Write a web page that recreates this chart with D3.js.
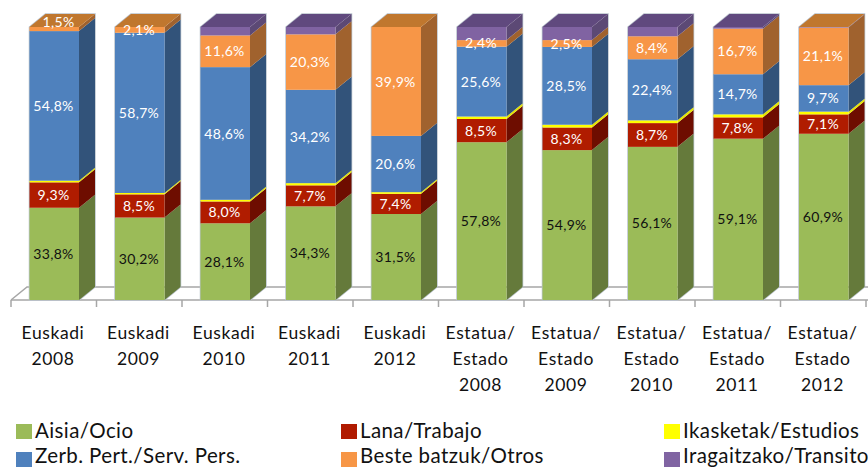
<!DOCTYPE html>
<html><head><meta charset="utf-8">
<script src="https://cdn.jsdelivr.net/npm/d3@7"></script>
<style>html,body{margin:0;background:#fff}svg{display:block}text{font-family:Lato,"Open Sans",sans-serif}</style>
</head><body><svg id="c" width="868" height="468"></svg>
<script>
const categories=[["Euskadi","2008"],["Euskadi","2009"],["Euskadi","2010"],["Euskadi","2011"],["Euskadi","2012"],["Estatua/","Estado","2008"],["Estatua/","Estado","2009"],["Estatua/","Estado","2010"],["Estatua/","Estado","2011"],["Estatua/","Estado","2012"]];
const seriesNames=["Aisia/Ocio","Lana/Trabajo","Ikasketak/Estudios","Zerb. Pert./Serv. Pers.","Beste batzuk/Otros","Iragaitzako/Transito"];
const colors=["#9bbb59","#b01a00","#ffff00","#4f81bd","#f79646","#8064a2"];
const sideColors=["#657a3a","#6e1000","#e6e600","#31527a","#a0622e","#5c4875"];
const topColors=["#7c9647","#8d1500","#cccc00","#3f6797","#c0772f","#614a7e"];
const aisia=[33.8,30.2,28.1,34.3,31.5,57.8,54.9,56.1,59.1,60.9];
const lana=[9.3,8.5,8.0,7.7,7.4,8.5,8.3,8.7,7.8,7.1];
const ikasketak=[0.6,0.5,0.6,0.8,0.6,0.9,1.0,1.0,1.1,1.0];
const zerb=[54.8,58.7,48.6,34.2,20.6,25.6,28.5,22.4,14.7,9.7];
const beste=[1.5,2.1,11.6,20.3,39.9,2.4,2.5,8.4,16.7,21.1];
const transito=[0,0,3.1,2.7,0,4.8,4.8,3.4,0.6,0.2];
const seriesValues=[aisia,lana,ikasketak,zerb,beste,transito];
const labelled=[true,true,false,true,true,false];

const svg=d3.select("#c");
const defs=svg.append("defs");
defs.append("filter").attr("id","soft").attr("x","-5%").attr("y","-5%").attr("width","110%").attr("height","110%")
  .append("feGaussianBlur").attr("stdDeviation",0.4);
const DX=16,DY=13,BW=49.5;
const x=d3.scaleLinear().domain([0,10]).range([11,866]);
const y=d3.scaleLinear().domain([0,100]).range([300,27]);
const fx=i=>x(i)+18.5;

// floor
const g=svg.append("g").attr("fill","none").attr("stroke","#a6a6a6").attr("stroke-width",1.5);
g.append("path").attr("d",`M${x(0)},${y(0)}L${x(0)+DX},${y(0)-DY}H868`);
g.append("path").attr("d",`M${x(0)},${y(0)}H868`);
d3.range(0,11).forEach(i=>g.append("path").attr("d",`M${x(i)},${y(0)}v7`));

const lab=[];
categories.forEach((c,i)=>{
  let cum=0;
  const bx=fx(i);
  const segs=seriesValues.map((v,s)=>{const a=cum;cum+=v[i];return {s,a,b:cum};});
  const total=cum;
  const bar=svg.append("g").attr("filter","url(#soft)");
  bar.append("path").attr("d",`M${bx},${y(0)}V${y(total)}L${bx+DX},${y(total)-DY}H${bx+BW+DX}V${y(0)-DY}L${bx+BW},${y(0)}Z`).attr("fill","none").attr("stroke","#b9c2cc").attr("stroke-width",1.5);
  segs.forEach(d=>{
    if(d.b-d.a<=0)return;
    const y0=y(d.a),y1=y(d.b);
    bar.append("path").attr("d",`M${bx+BW},${y0}L${bx+BW+DX},${y0-DY}V${y1-DY}L${bx+BW},${y1}Z`).attr("fill",sideColors[d.s]);
    bar.append("rect").attr("x",bx).attr("y",y1).attr("width",BW).attr("height",y0-y1).attr("fill",colors[d.s]);
    if(labelled[d.s]) lab.push({x:bx+24,y:(y0+y1)/2,t:d3.format(".1f")(d.b-d.a).replace(".",",")+"%",s:d.s,i});
  });
  const top=segs.filter(d=>d.b-d.a>0.4).pop();
  bar.append("path").attr("d",`M${bx},${y(total)}L${bx+DX},${y(total)-DY}H${bx+BW+DX}L${bx+BW},${y(total)}Z`).attr("fill",topColors[top.s]);
  const t=svg.append("text").attr("text-anchor","middle").attr("font-size",17.5).attr("letter-spacing",0.6).attr("fill","#111");
  c.forEach((l,k)=>t.append("tspan").attr("x",x(i)+42).attr("y",339+k*26).text(l));
});
lab.forEach(d=>{
  const first=d.i===0&&d.s===4;
  svg.append("text").attr("x",d.x+(first?5:0)).attr("y",d.y-(first?7:0)).attr("dy","0.36em").attr("text-anchor","middle").attr("font-size",14).attr("letter-spacing",0.3).attr("fill",d.s===0?"#111":"#fff").text(d.t);
});

// legend
const lx=[16,341,664],ly=[431,459],lb=[438,463];
seriesNames.forEach((n,i)=>{
  const c=i%3,r=Math.floor(i/3);
  svg.append("rect").attr("x",lx[c]).attr("y",ly[r]-7).attr("width",16).attr("height",15).attr("fill",colors[i]);
  svg.append("text").attr("x",lx[c]+19).attr("y",lb[r]).attr("font-size",20.5).attr("letter-spacing",0.4).attr("fill","#111").text(n);
});
</script></body></html>
